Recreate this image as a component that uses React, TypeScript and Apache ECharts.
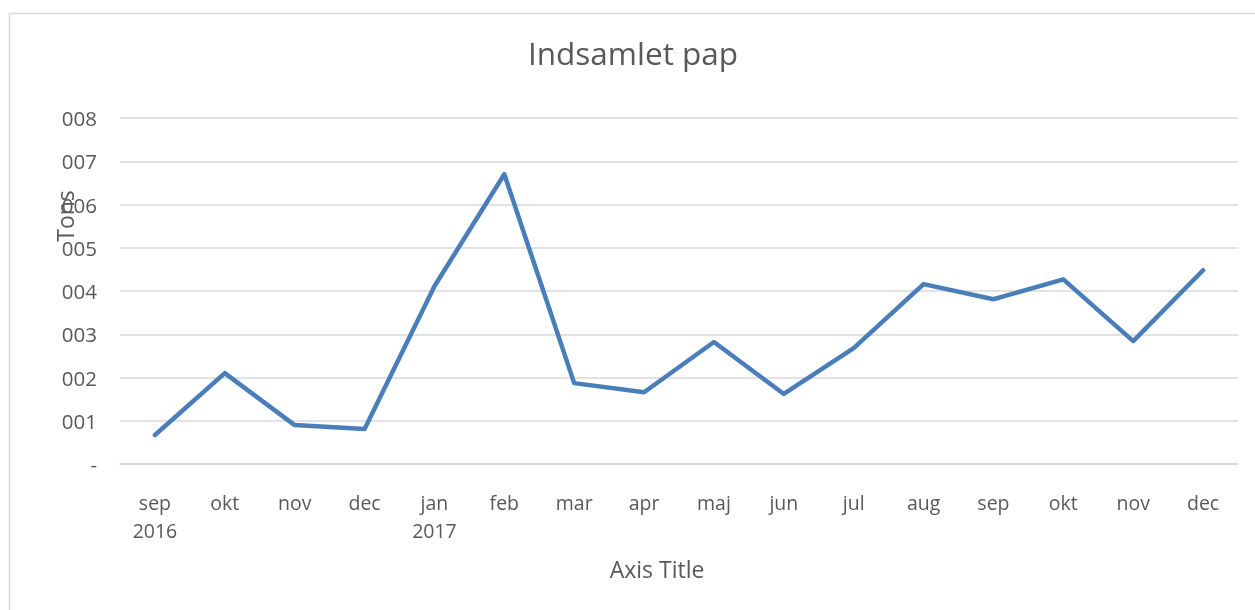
import React, { useEffect, useRef } from "react";
import * as echarts from "echarts";

const categories = ["sep\n2016", "okt", "nov", "dec", "jan\n2017", "feb", "mar", "apr", "maj", "jun", "jul", "aug", "sep", "okt", "nov", "dec"];
const values = [67, 210, 90, 81, 411, 670, 187, 166, 282, 162, 268, 416, 381, 427, 284, 448];
const yTickLabels = ["-", "001", "002", "003", "004", "005", "006", "007", "008"];
const titleText = "Indsamlet pap";
const yAxisTitle = "Tons";
const xAxisTitle = "Axis Title";

const FONT = "'Open Sans', 'Noto Sans', sans-serif";
const GREY = "#595959";

export default function App() {
  const ref = useRef<HTMLDivElement>(null);
  useEffect(() => {
    if (!ref.current) return;
    const chart = echarts.init(ref.current, undefined, { renderer: "svg" });
    chart.setOption({
      animation: false,
      textStyle: { fontFamily: FONT },
      grid: { left: 120, right: 17, top: 118, bottom: 146, containLabel: false },
      xAxis: {
        type: "category",
        data: categories,
        boundaryGap: true,
        axisLine: { show: true, lineStyle: { color: "#d9d9d9", width: 1.5 } },
        axisTick: { show: false },
        axisLabel: { color: GREY, fontSize: 19.5, fontFamily: FONT, margin: 24, lineHeight: 28, interval: 0 },
      },
      yAxis: {
        type: "value",
        min: 0,
        max: 800,
        interval: 100,
        axisLine: { show: false },
        axisTick: { show: false },
        splitLine: { lineStyle: { color: "#d9d9d9", width: 1.5 } },
        axisLabel: {
          color: GREY,
          fontSize: 20.5,
          fontFamily: FONT,
          margin: 23,
          padding: [7, 0, 0, 0],
          formatter: (v: number) => yTickLabels[Math.round(v / 100)] ?? "",
        },
      },
      series: [
        {
          type: "line",
          data: values,
          showSymbol: false,
          symbol: "none",
          lineStyle: { color: "#4a7ebb", width: 4.5, cap: "round", join: "round" },
        },
      ],
      graphic: [
        {
          type: "rect",
          shape: { x: 9.5, y: 13.5, width: 1300, height: 700 },
          style: { fill: "none", stroke: "#d9d9d9", lineWidth: 1.5 },
          z: -10,
        },
        {
          type: "text",
          x: 633,
          y: 52,
          style: { text: titleText, fill: GREY, fontSize: 31.5, fontFamily: FONT, align: "center", verticalAlign: "middle" },
        },
        {
          type: "text",
          x: 65,
          y: 216,
          rotation: Math.PI / 2,
          style: { text: yAxisTitle, fill: GREY, fontSize: 23, fontFamily: FONT, align: "center", verticalAlign: "middle" },
        },
        {
          type: "text",
          x: 657,
          y: 569,
          style: { text: xAxisTitle, fill: GREY, fontSize: 23, fontFamily: FONT, align: "center", verticalAlign: "middle" },
        },
      ],
    });
    return () => chart.dispose();
  }, []);
  return <div ref={ref} style={{ position: "fixed", left: 0, top: 0, width: 1255, height: 610 }} />;
}
